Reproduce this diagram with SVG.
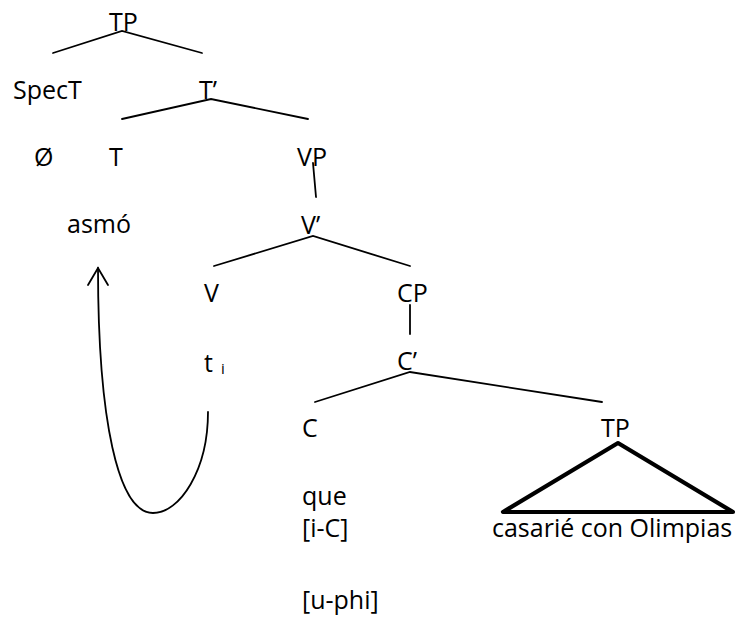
<svg xmlns="http://www.w3.org/2000/svg" width="740" height="622" viewBox="0 0 740 622">
  <style>
    text { font-family: "Open Sans", "Liberation Sans", sans-serif; font-size: 25px; fill: #000; }
    .sub { font-size: 15px; }
    .edge { stroke: #000; stroke-width: 1.8; fill: none; stroke-linecap: round; }
    .tri { stroke: #000; stroke-width: 4.2; fill: none; stroke-linejoin: round; }
  </style>
  <rect width="740" height="622" fill="#fff"/>

  <!-- tree branches -->
  <g id="connectors">
    <path class="edge" d="M53,53 L122,31 L202,53"/>
    <path class="edge" d="M122,119 L211,99 L308,119"/>
    <path class="edge" d="M313,163 L316,197"/>
    <path class="edge" d="M214,266 L313,236 L410,266"/>
    <path class="edge" d="M410,305 L410,334"/>
    <path class="edge" d="M315,402 L410,372 L602,402"/>
    <polygon class="tri" points="618,443 503,512 733,512"/>
    <!-- head movement from t_i up to asmó -->
    <path class="edge" d="M208,412 C208,470 180,513 153,513 C118,513 98,420 98,268"/>
    <path class="edge" d="M88,285 L98,268 L108,285"/>
  </g>

  <g id="tp-root"><text x="109" y="31">TP</text></g>
  <g id="spec-t"><text x="13" y="99">SpecT</text></g>
  <g id="t-bar"><text x="199" y="99">T’</text></g>
  <g id="null"><text x="34" y="166" font-size="27">Ø</text></g>
  <g id="t-head"><text x="109" y="166">T</text></g>
  <g id="vp"><text x="297" y="166">VP</text></g>
  <g id="asmo"><text x="67" y="233">asmó</text></g>
  <g id="v-bar"><text x="301" y="234">V’</text></g>
  <g id="v-head"><text x="204" y="302">V</text></g>
  <g id="cp"><text x="397" y="302">CP</text></g>
  <g id="trace"><text x="204" y="372">t</text><text class="sub" x="221" y="374">i</text></g>
  <g id="c-bar"><text x="397" y="370">C’</text></g>
  <g id="c-head"><text x="302" y="437">C</text></g>
  <g id="tp-embedded"><text x="601" y="437">TP</text></g>
  <g id="que">
    <text x="302" y="505">que</text>
    <text x="302" y="537">[i-C]</text>
    <text x="302" y="609">[u-phi]</text>
  </g>
  <g id="tp-content"><text x="492" y="537">casarié con Olimpias</text></g>
</svg>
